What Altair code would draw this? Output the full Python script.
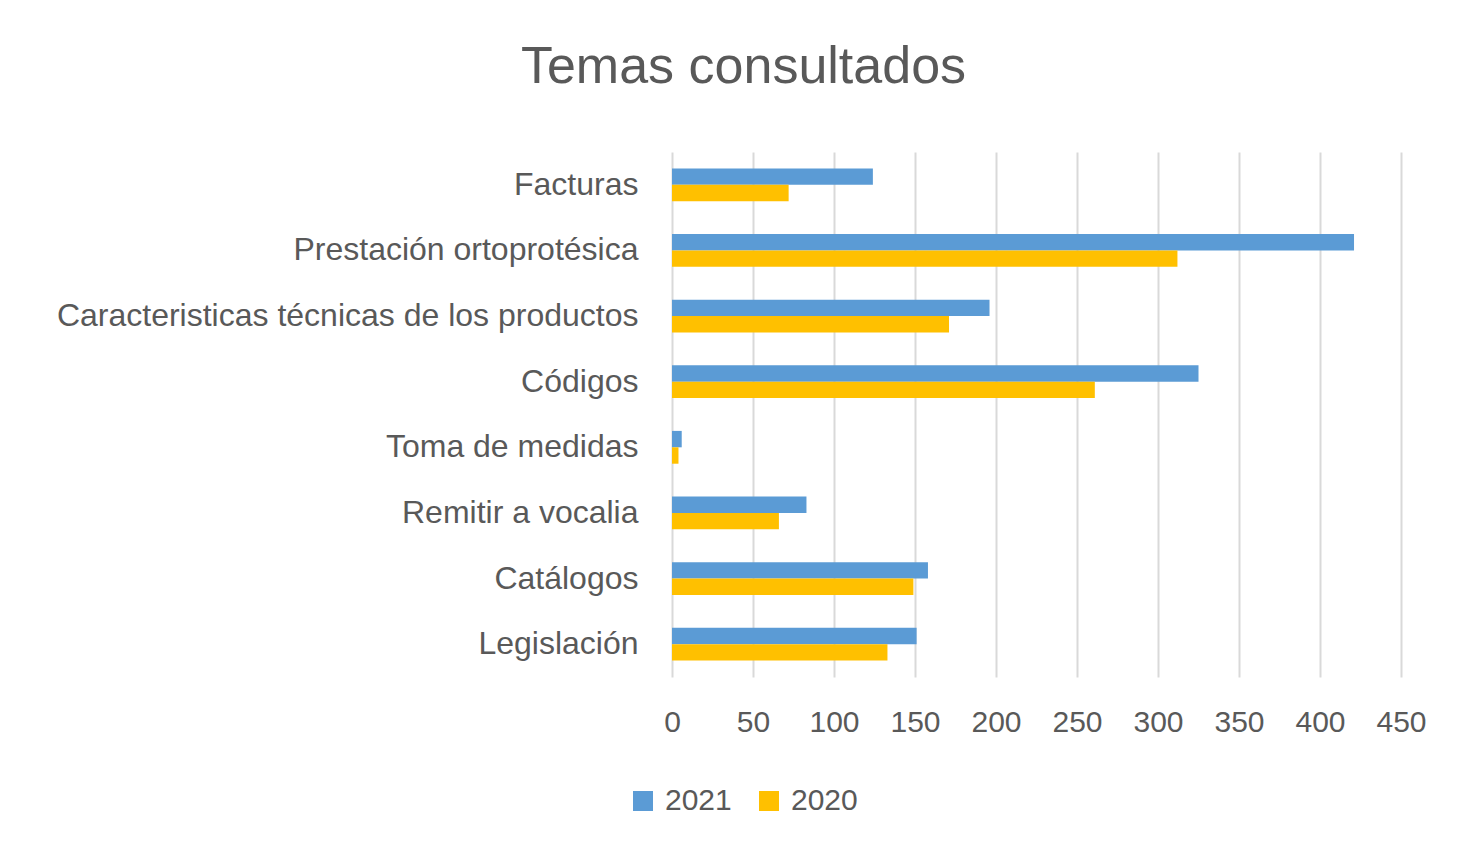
import altair as alt
import pandas as pd

categories = ["Facturas", "Prestación ortoprotésica", "Caracteristicas técnicas de los productos",
              "Códigos", "Toma de medidas", "Remitir a vocalia", "Catálogos", "Legislación"]
values_2021 = [124, 421, 196, 325, 6, 83, 158, 151]
values_2020 = [72, 312, 171, 261, 4, 66, 149, 133]
series = ["2021", "2020"]
x_ticks = [0, 50, 100, 150, 200, 250, 300, 350, 400, 450]

rows = []
for c, a, b in zip(categories, values_2021, values_2020):
    rows.append({"tema": c, "serie": "2021", "valor": a})
    rows.append({"tema": c, "serie": "2020", "valor": b})
df = pd.DataFrame(rows)

FONT = "Liberation Sans, sans-serif"
GREY = "#595959"

chart = alt.Chart(df).mark_bar().encode(
    x=alt.X("valor:Q", scale=alt.Scale(domain=[0, 450], nice=False),
            axis=alt.Axis(values=x_ticks, title=None, domain=False, ticks=False,
                          grid=True, gridColor="#d9d9d9", gridWidth=2,
                          labelFontSize=30, labelColor=GREY, labelFont=FONT,
                          labelPadding=30, labelFlush=False)),
    y=alt.Y("tema:N", sort=categories,
            scale=alt.Scale(paddingInner=0.5, paddingOuter=0.25),
            axis=alt.Axis(title=None, domain=False, ticks=False, grid=False,
                          labelFontSize=32, labelColor=GREY, labelFont=FONT,
                          labelPadding=34, labelLimit=800)),
    yOffset=alt.YOffset("serie:N", sort=series),
    color=alt.Color("serie:N", sort=series,
                    scale=alt.Scale(domain=series, range=["#5B9BD5", "#FFC000"]),
                    legend=alt.Legend(title=None, orient="none", direction="horizontal",
                                      legendX=-44, legendY=634, symbolType="square",
                                      symbolSize=400, symbolStrokeWidth=0,
                                      labelFontSize=30, labelColor=GREY, labelFont=FONT,
                                      columnPadding=22, labelOffset=7)),
).properties(
    width=729,
    height=525,
    title=alt.TitleParams("Temas  consultados", fontSize=52, font=FONT, color=GREY,
                          fontWeight="normal", anchor="middle", dx=-293, offset=58),
    autosize=alt.AutoSizeParams(type="none"),
    padding={"left": 664, "top": 144, "right": 60, "bottom": 170},
).configure(background="white", view=alt.ViewConfig(stroke=None))

chart.save("out.html", embed_options={"renderer": "svg", "actions": False})
